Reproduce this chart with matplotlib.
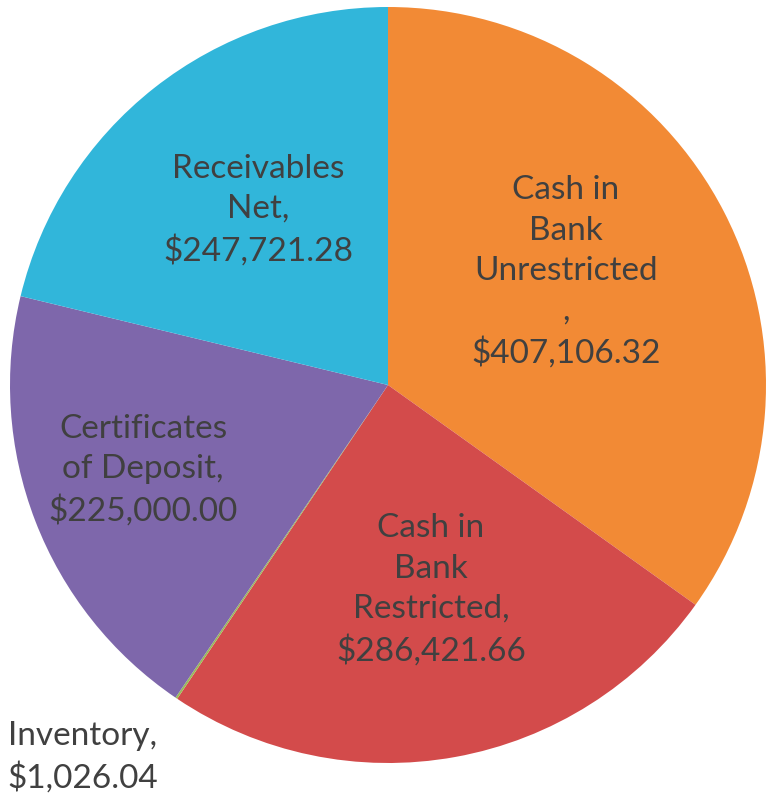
import matplotlib
matplotlib.use("Agg")
import matplotlib.pyplot as plt

categories = ["Cash in\nBank\nUnrestricted\n,\n$407,106.32",
              "Cash in\nBank\nRestricted,\n$286,421.66",
              "Inventory,\n$1,026.04",
              "Certificates\nof Deposit,\n$225,000.00",
              "Receivables\nNet,\n$247,721.28"]
values = [407106.32, 286421.66, 1026.04, 225000.00, 247721.28]
colors = ["#F28A35", "#D34B4B", "#9BBB59", "#7E67AB", "#31B6DA"]

# label positions (pixel coords, y from top)
label_pos = [(566, 272), (431, 590), (83, 757), (143, 470), (258, 210)]

W, H = 768, 798
fig = plt.figure(figsize=(W / 100, H / 100), dpi=100)
ax = fig.add_axes([0, 0, 1, 1])
ax.set_xlim(0, W)
ax.set_ylim(0, H)
ax.set_aspect("equal")
ax.axis("off")

cx, cy, r = 388, H - 385, 378
ax.pie(values, colors=colors, startangle=90, counterclock=False,
       center=(cx, cy), radius=r, frame=True,
       wedgeprops=dict(linewidth=0))
ax.set_xlim(0, W)
ax.set_ylim(0, H)
ax.axis("off")

for lab, (x, y) in zip(categories, label_pos):
    ax.text(x, H - y, lab, ha="center", va="center", fontsize=24,
            family="Lato", fontweight="normal", color="#404040",
            linespacing=1.42)

fig.savefig("out.png", dpi=100)
